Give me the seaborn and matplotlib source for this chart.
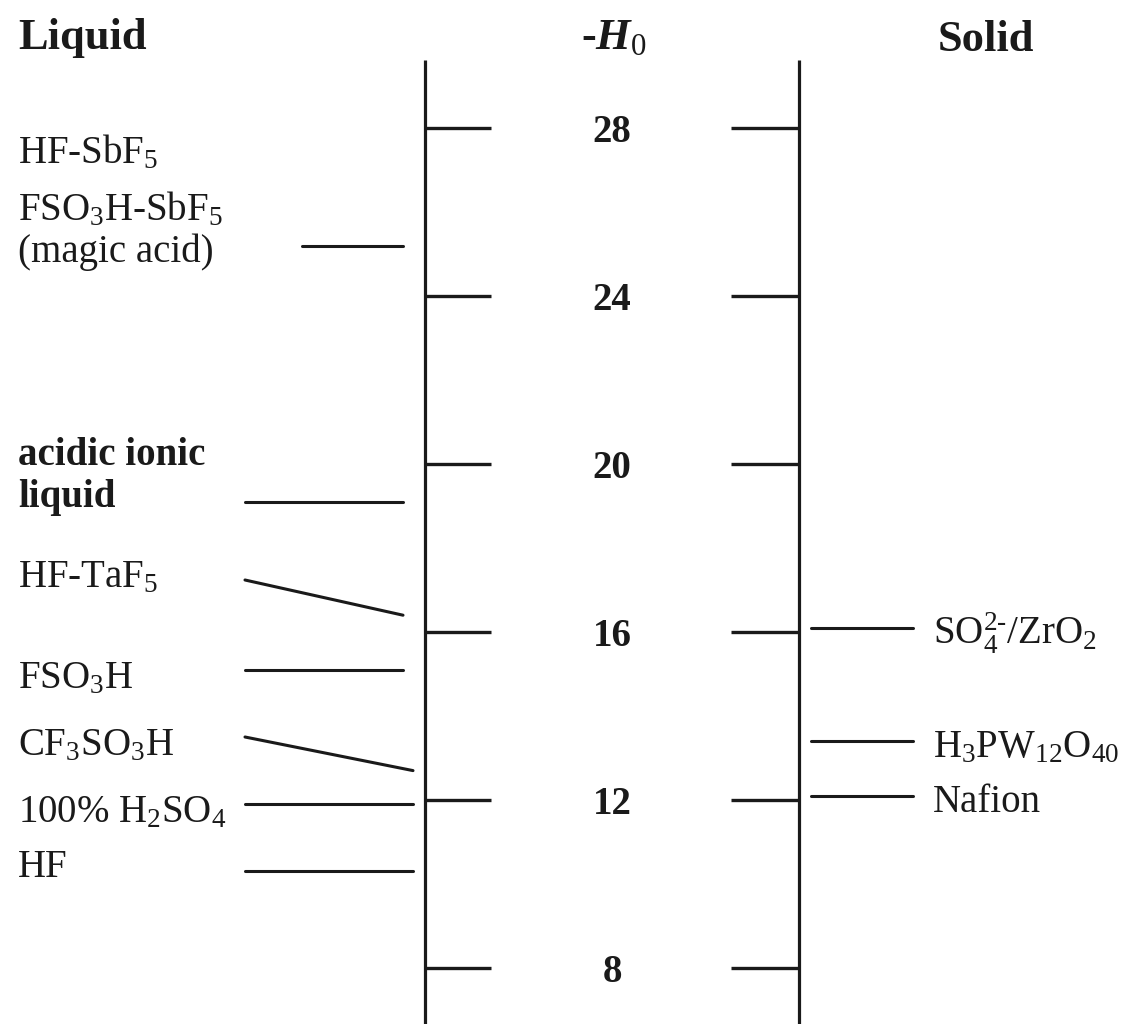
import numpy as np
import pandas as pd
import matplotlib.pyplot as plt
import seaborn as sns

# -H0 acidity scale: liquid vs solid acids
scale_ticks = [28, 24, 20, 16, 12, 8]

liquid_names = ['FSO$_3$H-SbF$_5$', 'acidic ionic liquid', 'HF-TaF$_5$', 'FSO$_3$H',
                'CF$_3$SO$_3$H', '100% H$_2$SO$_4$', 'HF']
liquid_h0 = [25.2, 19.1, 16.4, 15.1, 12.7, 11.9, 10.3]

solid_names = [r'SO$_4^{2\text{-}}$/ZrO$_2$', 'H$_3$PW$_{12}$O$_{40}$', 'Nafion']
solid_h0 = [16.1, 13.4, 12.1]

sns.set_theme(style='white')
plt.rcParams['font.family'] = ['Liberation Serif', 'DejaVu Serif']
plt.rcParams['mathtext.fontset'] = 'custom'
plt.rcParams['mathtext.rm'] = 'Liberation Serif'
plt.rcParams['mathtext.it'] = 'Liberation Serif:italic:bold'
plt.rcParams['mathtext.bf'] = 'Liberation Serif:bold'


def h_at(py):
    # pixel row -> H0 value on the scale
    return 28 - (py - 128) / 42.0


fs = 28
fs_head = 32
ink = '#1a1a1a'

fig = plt.figure(figsize=(11.35, 10.24), dpi=100)
ax = fig.add_axes([0, 0, 1, 1])

# connector lines (label side -> scale)
left_x = [302, 245, 245, 245, 245, 245, 245]
right_x = [403, 403, 403, 403, 413, 413, 413]
left_py = [245, 503, 580, 670, 737, 805, 872]
rows = []
for name, h, x0, x1, py in zip(liquid_names, liquid_h0, left_x, right_x, left_py):
    start = h if abs(h_at(py) - h) < 0.15 else h_at(py)
    rows.append((name, x0, start))
    rows.append((name, x1, h))
for name, h in zip(solid_names, solid_h0):
    rows.append((name, 811, h))
    rows.append((name, 913, h))
conn = pd.DataFrame(rows, columns=['name', 'x', 'H'])
sns.lineplot(data=conn, x='x', y='H', units='name', estimator=None, sort=False,
             color=ink, linewidth=2.2, legend=False, ax=ax)

# the two scales
ax.vlines([425, 799], h_at(1030), h_at(60), color=ink, linewidth=2.3)
ax.hlines(scale_ticks, 425, 491, color=ink, linewidth=2.4)
ax.hlines(scale_ticks, 731, 799, color=ink, linewidth=2.4)
for t in scale_ticks:
    ax.text(612, h_at(128 + (28 - t) * 42 + 14), str(t), ha='center', va='baseline',
            fontsize=fs, fontweight='bold', color=ink)

# headers
ax.text(18, h_at(49), 'Liquid', fontsize=fs_head, fontweight='bold', va='baseline', color=ink)
ax.text(614, h_at(49), '-$H_0$', fontsize=fs_head, fontweight='bold', ha='center', va='baseline', color=ink)
ax.text(938, h_at(51), 'Solid', fontsize=fs_head, fontweight='bold', va='baseline', color=ink)

# liquid labels
liq_text = [('HF-SbF$_5$', 163, 'normal'), ('FSO$_3$H-SbF$_5$', 220, 'normal'),
            ('(magic acid)', 262, 'normal'), ('acidic ionic', 465, 'bold'),
            ('liquid', 507, 'bold'), ('HF-TaF$_5$', 587, 'normal'),
            ('FSO$_3$H', 688, 'normal'), ('CF$_3$SO$_3$H', 755, 'normal'),
            ('100% H$_2$SO$_4$', 822, 'normal'), ('HF', 877, 'normal')]
for s, py, w in liq_text:
    ax.text(18, h_at(py), s, fontsize=fs, fontweight=w, va='baseline', color=ink)

# solid labels
for s, py in zip(solid_names, [645, 757, 812]):
    ax.text(933, h_at(py), s, fontsize=fs, va='baseline', color=ink)

ax.set_xlim(0, 1135)
ax.set_ylim(h_at(1024), h_at(0))
ax.axis('off')
plt.savefig('out.png', dpi=100)
